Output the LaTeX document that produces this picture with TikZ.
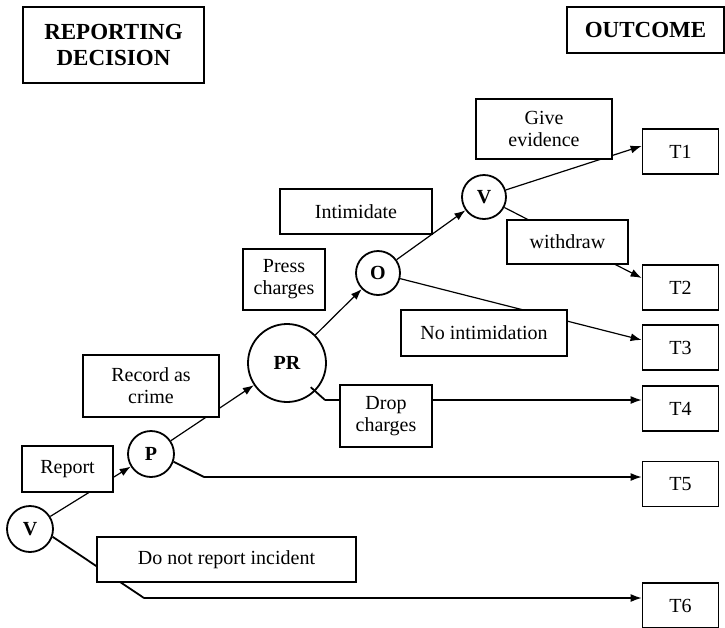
\documentclass[tikz,border=0pt]{standalone}
\usepackage{fontspec}
\setmainfont{Liberation Serif}
\usetikzlibrary{arrows.meta}

\begin{document}
\begin{tikzpicture}[
    x=0.5pt, y=-0.5pt,
    heading/.style={rectangle, draw, line width=0.9pt, inner sep=0pt, align=center,
        font=\fontsize{11.5}{13}\selectfont\bfseries},
    choice/.style={rectangle, draw, line width=0.9pt, fill=white, inner sep=0pt,
        align=center, font=\fontsize{10}{11}\selectfont},
    decision/.style={circle, draw, line width=0.9pt, inner sep=0pt, minimum size=23pt,
        font=\fontsize{10}{11}\selectfont\bfseries},
    outcome/.style={rectangle, draw, line width=0.9pt, inner sep=0pt,
        minimum width=38pt, minimum height=22.5pt, font=\fontsize{10}{11}\selectfont},
    branch/.style={line width=0.6pt, -{Latex[length=5.5pt,width=4pt]}},
    stub/.style={line width=0.9pt}
]
\useasboundingbox (0,0) rectangle (725,628);

\node (Decision) [heading, minimum width=90.5pt, minimum height=38pt] at (113.5,45) {REPORTING\\DECISION};
\node (Outcome) [heading, minimum width=78.5pt, minimum height=23pt] at (645.5,30) {OUTCOME};

\node (Victim1) [decision] at (30,529) {V};
\node (Police) [decision] at (151,454) {P};
\node (Prosecutor) [decision, minimum size=39pt] at (287,363) {PR};
\node (Offender) [decision, minimum size=22pt] at (378,273) {O};
\node (Victim2) [decision, minimum size=22pt] at (484,197) {V};

\node (T1) [outcome] at (680.5,151.5) {T1};
\node (T2) [outcome] at (680.5,287.5) {T2};
\node (T3) [outcome] at (680.5,347.5) {T3};
\node (T4) [outcome] at (680.5,408.5) {T4};
\node (T5) [outcome] at (680.5,484) {T5};
\node (T6) [outcome] at (680.5,605.5) {T6};

\coordinate (Bend4) at (325,400);
\coordinate (Bend5) at (204,477);
\coordinate (Bend6) at (144,598);

\draw[branch] (Victim1) -- (Police);
\draw[branch] (Police) -- (Prosecutor);
\draw[branch] (Prosecutor) -- (Offender);
\draw[branch] (Offender) -- (Victim2);
\draw[branch] (Victim2) -- ([yshift=2.75pt]T1.west);
\draw[branch] (Victim2) -- ([yshift=4.75pt]T2.west);
\draw[branch] (Offender) -- ([yshift=3.75pt]T3.west);
\draw[stub, shorten <=-3pt] (Prosecutor.south east) -- (Bend4);
\draw[branch] (Bend4) -- (Bend4 -| T4.west);
\draw[stub] (Police.-19) -- (Bend5);
\draw[branch] (Bend5) -- (Bend5 -| T5.west);
\draw[stub] (Victim1.-19) -- (Bend6);
\draw[branch] (Bend6) -- (Bend6 -| T6.west);

\node (Report) [choice, minimum width=45.5pt, minimum height=23pt] at (67.5,469) {Report};
\node (Record) [choice, minimum width=68pt, minimum height=31pt] at (151,386) {Record as\\crime};
\node (Press) [choice, minimum width=41pt, minimum height=30.5pt] at (284,279.5) {Press\\charges};
\node (Intimidate) [choice, minimum width=76pt, minimum height=22.5pt] at (356,211.5) {Intimidate};
\node (Evidence) [choice, minimum width=68pt, minimum height=30pt] at (544,129) {Give\\evidence};
\node (Withdraw) [choice, minimum width=60.5pt, minimum height=22pt] at (567.5,242) {withdraw};
\node (NoIntimidation) [choice, minimum width=83pt, minimum height=23pt] at (484,333) {No intimidation};
\node (Drop) [choice, minimum width=46pt, minimum height=31pt] at (386,416) {Drop\\charges};
\node (NoReport) [choice, minimum width=129.5pt, minimum height=22.5pt] at (226.5,559.5) {Do not report incident};

\end{tikzpicture}
\end{document}
